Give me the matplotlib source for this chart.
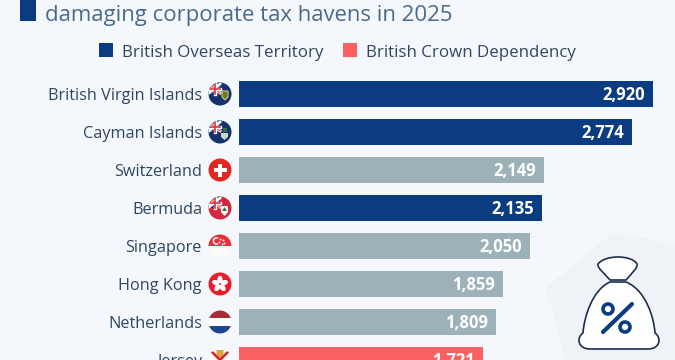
import matplotlib
matplotlib.use("Agg")
import matplotlib.pyplot as plt
from matplotlib.patches import Circle, Rectangle, Polygon, PathPatch, Wedge, Ellipse
from matplotlib.path import Path
from matplotlib.transforms import Affine2D

plt.rcParams["font.family"] = ["Open Sans", "DejaVu Sans"]

countries = ["British Virgin Islands", "Cayman Islands", "Switzerland", "Bermuda",
             "Singapore", "Hong Kong", "Netherlands", "Jersey"]
values = [2920, 2774, 2149, 2135, 2050, 1859, 1809, 1721]
groups = ["ot", "ot", "other", "ot", "other", "other", "other", "cd"]
title = "damaging corporate tax havens in 2025"
legend_labels = ["British Overseas Territory", "British Crown Dependency"]

BG = "#f4f7fb"
NAVY = "#0b3c81"
GREY = "#9db1b9"
CORAL = "#fb6062"
TEXT = "#2f4763"
colors = {"ot": NAVY, "other": GREY, "cd": CORAL}

W, H = 675, 360
fig = plt.figure(figsize=(W / 100, H / 100), dpi=100, facecolor=BG)

# overlay in pixel coordinates for the title, legend, flags and icon
px = fig.add_axes([0, 0, 1, 1], zorder=3)
px.set_xlim(0, W)
px.set_ylim(H, 0)
px.axis("off")

back = fig.add_axes([0, 0, 1, 1], zorder=1)
back.set_xlim(0, W)
back.set_ylim(H, 0)
back.axis("off")
back.add_patch(Polygon([(615, 238), (675, 250), (675, 360), (572, 360), (552, 290)],
                       closed=True, fc="#eff3f7", ec="#eff3f7", lw=8, joinstyle="round"))

# bars: 0.1418 px per unit, rows 38 px apart
ax = fig.add_axes([239 / W, 0, (W - 239) / W, (H - 75) / H], zorder=2)
ax.patch.set_alpha(0)
ax.set_xlim(0, (W - 239) / 0.1418)
ax.set_ylim(7, -0.5)
ax.axis("off")
for i, (v, g) in enumerate(zip(values, groups)):
    ax.barh(i, v, height=26 / 38, color=colors[g])
    ax.text(v - 55, i + 0.03, f"{v:,}", color="white", fontsize=12, fontweight="bold",
            ha="right", va="center", clip_on=True)

# title block and legend
px.add_patch(Rectangle((20, 0), 16, 21, fc=NAVY, ec="none"))
px.text(45, 21, title, fontsize=15.9, color="#4a6a8d", ha="left", va="baseline")
px.add_patch(Rectangle((99, 43), 14, 14, fc=NAVY, ec="none"))
px.text(122, 57, legend_labels[0], fontsize=12.2, color=TEXT, ha="left", va="baseline")
px.add_patch(Rectangle((343, 43), 14, 14, fc=CORAL, ec="none"))
px.text(366, 57, legend_labels[1], fontsize=12.2, color=TEXT, ha="left", va="baseline")

for i, name in enumerate(countries):
    px.text(202, 96 + 38 * i, name, fontsize=11.7, color=TEXT, ha="right", va="center",
            clip_on=True)


def flag_base(cy, color):
    c = Circle((220, cy), 11.5, fc=color, ec="none")
    px.add_patch(c)
    return c


def union_jack(cy, clip):
    r = Rectangle((208, cy - 12), 12, 12, fc="#1d3f7a", ec="none")
    px.add_patch(r)
    r.set_clip_path(clip)
    for seg, col, lw in [([(209, cy - 10), (220, cy - 1)], "white", 2.0),
                         ([(220, cy - 10), (209, cy - 1)], "white", 2.0),
                         ([(209, cy - 10), (220, cy - 1)], "#e0313a", 0.8),
                         ([(214.5, cy - 12), (214.5, cy)], "white", 2.4),
                         ([(208, cy - 5.5), (220, cy - 5.5)], "white", 2.4),
                         ([(214.5, cy - 12), (214.5, cy)], "#e0313a", 1.2),
                         ([(208, cy - 5.5), (220, cy - 5.5)], "#e0313a", 1.2)]:
        ln, = px.plot(*zip(*seg), color=col, lw=lw)
        ln.set_clip_path(clip)


cy = 94
c = flag_base(cy, "#14336e")
union_jack(cy, c)
px.add_patch(Polygon([(222, cy - 3), (228, cy - 3), (228, cy + 3), (225, cy + 6), (222, cy + 3)],
                     fc="#5f7d3a", ec="#d9c46a", lw=0.8))

cy = 132
c = flag_base(cy, "#14336e")
union_jack(cy, c)
px.add_patch(Polygon([(221, cy + 1), (228, cy + 1), (228, cy + 5), (224.5, cy + 8), (221, cy + 5)],
                     fc="#c9d9c8", ec="none"))
px.add_patch(Rectangle((222.5, cy - 4), 4, 4, fc="#3c6b4a", ec="none"))

cy = 170
flag_base(cy, "#e5261f")
px.add_patch(Rectangle((213.5, cy - 2.3), 13, 4.6, fc="white", ec="none"))
px.add_patch(Rectangle((217.7, cy - 6.5), 4.6, 13, fc="white", ec="none"))

cy = 208
c = flag_base(cy, "#d4283f")
union_jack(cy, c)
px.add_patch(Polygon([(221, cy - 2), (228, cy - 2), (228, cy + 4), (224.5, cy + 8), (221, cy + 4)],
                     fc="white", ec="none"))
px.add_patch(Polygon([(222, cy + 3), (227, cy + 3), (224.5, cy - 1)], fc="#2c7a3f", ec="none"))

cy = 246
px.add_patch(Circle((220, cy), 11.5, fc="#fbfbfb", ec="none"))
px.add_patch(Wedge((220, cy), 11.5, 180, 360, fc="#ea2e3a", ec="none"))
px.add_patch(Wedge((216.5, cy - 5), 3.8, 60, 300, width=1.5, fc="white", ec="none"))
px.scatter([220, 223, 219, 224, 221.5], [cy - 7, cy - 6.5, cy - 4, cy - 3.5, cy - 2.5], s=1.8,
           color="white", lw=0)

cy = 284
flag_base(cy, "#ea1c2c")
for ang in range(0, 360, 72):
    p = Ellipse((220, cy - 4.2), 5.2, 8.2, fc="white", ec="none")
    p.set_transform(Affine2D().rotate_deg_around(220, cy, ang) + px.transData)
    px.add_patch(p)
px.add_patch(Circle((220, cy), 1.0, fc="#ea1c2c", ec="none"))

cy = 322
c = flag_base(cy, "white")
r1 = Rectangle((208, cy - 12), 24, 8, fc="#a92c35", ec="none")
r2 = Rectangle((208, cy + 4), 24, 8, fc="#1f4690", ec="none")
px.add_patch(r1)
px.add_patch(r2)
r1.set_clip_path(c)
r2.set_clip_path(c)

cy = 360
c = flag_base(cy, "white")
for seg in [[(208, cy - 12), (232, cy + 12)], [(232, cy - 12), (208, cy + 12)]]:
    ln, = px.plot(*zip(*seg), color="#d8202c", lw=1.8)
    ln.set_clip_path(c)
px.add_patch(Polygon([(216.5, cy - 10), (223.5, cy - 10), (223.5, cy - 3), (220, cy - 1), (216.5, cy - 3)],
                     fc="#d8a93a", ec="none"))

# money bag icon
bag = Path([(610, 282),
            (592, 290), (584, 318), (583, 333),
            (576, 338), (578, 349), (590, 349),
            (648, 349),
            (660, 349), (662, 338), (655, 333),
            (654, 318), (646, 290), (626, 282),
            (610, 282)],
           [Path.MOVETO,
            Path.CURVE4, Path.CURVE4, Path.CURVE4,
            Path.CURVE4, Path.CURVE4, Path.CURVE4,
            Path.LINETO,
            Path.CURVE4, Path.CURVE4, Path.CURVE4,
            Path.CURVE4, Path.CURVE4, Path.CURVE4,
            Path.CLOSEPOLY])
px.add_patch(PathPatch(bag, fc="white", ec="#1c2f4e", lw=1.2, joinstyle="round"))
neck = Path([(610, 280),
             (605, 274), (597, 268), (598, 264),
             (602, 259), (610, 257), (618, 257),
             (626, 257), (634, 259), (637, 264),
             (638, 268), (631, 274), (626, 280),
             (610, 280)],
            [Path.MOVETO,
             Path.CURVE4, Path.CURVE4, Path.CURVE4,
             Path.CURVE4, Path.CURVE4, Path.CURVE4,
             Path.CURVE4, Path.CURVE4, Path.CURVE4,
             Path.CURVE4, Path.CURVE4, Path.CURVE4,
             Path.CLOSEPOLY])
px.add_patch(PathPatch(neck, fc="white", ec="#1c2f4e", lw=1.2, joinstyle="round"))
px.plot([603, 632], [332, 304], color=NAVY, lw=3, solid_capstyle="round")
px.add_patch(Circle((608, 309), 5, fc="none", ec=NAVY, lw=2.6))
px.add_patch(Circle((625, 327), 5, fc="none", ec=NAVY, lw=2.6))

fig.savefig("out.png", dpi=100, facecolor=BG)
